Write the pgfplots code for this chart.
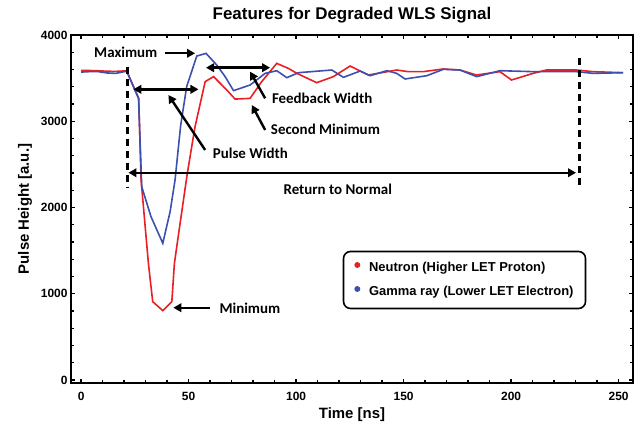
\documentclass[border=0pt]{standalone}
\usepackage{pgfplots}
\pgfplotsset{compat=1.18}
\usepackage{fontspec}
\setmainfont{Liberation Sans}
\newfontfamily\calib{Carlito}
\usetikzlibrary{arrows.meta}
\definecolor{myred}{RGB}{235,30,35}
\definecolor{myblue}{RGB}{60,80,175}
\tikzset{
  ann/.style={line width=2.4bp, -{Triangle[length=8bp,width=8.5bp]}},
  dann/.style={line width=2.4bp, {Triangle[length=8bp,width=8.5bp]}-{Triangle[length=8bp,width=8.5bp]}},
  atext/.style={anchor=base west, inner sep=0pt, font=\calib\fontsize{15}{18}\selectfont\bfseries},
  vdash/.style={line width=3bp, dash pattern=on 7bp off 5bp},
}
\begin{document}
\begin{tikzpicture}
\useasboundingbox (-71bp,-44bp) rectangle (566bp,383bp);
\begin{axis}[
  at={(0,0)}, anchor=south west, scale only axis,
  width=562bp, height=348bp,
  xmin=-4.7, xmax=256.7, ymin=-35, ymax=4000,
  xtick={0,50,...,250}, ytick={0,1000,...,4000},
  minor x tick num=4, minor y tick num=4,
  major tick length=4.5bp, minor tick length=3bp,
  tick style={line width=1.3bp, black},
  axis line style={line width=1.5bp},
  tick align=inside,
  /pgf/number format/assume math mode=true,
  /pgf/number format/1000 sep={},
  ticklabel style={font=\fontsize{12}{14}\selectfont\bfseries},
  xticklabel style={anchor=base, yshift=-17bp},
  title={Features for Degraded WLS Signal},
  title style={at={(axis description cs:0.5,1)}, anchor=base, yshift=9.5bp, inner sep=0pt, font=\fontsize{17}{20}\selectfont\bfseries},
  xlabel={Time [ns]},
  xlabel style={at={(axis description cs:0.5,0)}, anchor=base, yshift=-35bp, inner sep=0pt, font=\fontsize{15}{18}\selectfont\bfseries},
  ylabel={Pulse Height [a.u.]},
  ylabel style={at={(axis description cs:-0.0819,0.5)}, anchor=center, inner sep=0pt, font=\fontsize{15}{18}\selectfont\bfseries},
  legend style={at={(axis description cs:0.4835,0.3802)}, anchor=north west,
    draw=black, line width=1.6bp, rounded corners=7bp,
    inner xsep=10bp, inner ysep=8bp, row sep=7bp,
    font=\fontsize{13}{15}\selectfont\bfseries,
    nodes={inner sep=2bp, text height=10bp, text depth=3bp},
    /tikz/every odd column/.append style={column sep=6bp}},
  legend cell align=left,
  legend image code/.code={\path (-3bp,0) (3bp,0); \fill (0,0.3em) circle (2.1bp);},
]
\addplot[color=myred, line width=1.6bp] coordinates {
(0,3590) (4,3588) (8,3585) (12,3580) (16,3578) (21.2,3585)
(26.8,3265) (27.9,2319) (31.3,1353) (33.3,908) (38,804) (42.2,908) (43.4,1353)
(45.6,1739) (49.4,2396) (53,2937) (57.7,3459) (61.6,3517) (67.8,3362) (71.6,3257)
(78.6,3265) (84,3459) (91,3671) (96.4,3613) (100.3,3556) (109.6,3447) (117.3,3517)
(125.1,3640) (133.6,3536) (146.8,3594) (152.2,3575) (159.1,3575) (168.4,3606)
(176.2,3594) (183.9,3536) (194.8,3575) (200.2,3478) (210.2,3555) (216.4,3594)
(230.4,3594) (238.1,3575) (252.1,3563)
};
\addlegendentry{Neutron (Higher LET Proton)}
\addplot[color=myblue, line width=1.6bp] coordinates {
(0,3570) (4,3575) (8,3575) (12,3560) (16,3555) (21.2,3580)
(26.7,3265) (28.2,2241) (32.5,1894) (38,1585) (41.4,1952) (43.7,2319)
(46.3,2950) (49.1,3401) (53.8,3756) (58.1,3787) (63.1,3652) (67,3517) (70.9,3355)
(78.6,3420) (85.6,3555) (91,3586) (95.7,3505) (101.1,3563) (116.6,3594) (122,3509)
(129.8,3582) (134.4,3528) (142.2,3586) (146.8,3555) (150.7,3490) (160.8,3528)
(168.5,3602) (176.2,3594) (184,3517) (194.8,3586) (210.3,3575) (230.4,3575)
(238.2,3555) (252.1,3563)
};
\addlegendentry{Gamma ray (Lower LET Electron)}
% annotations
\draw[vdash] (21.5,3632) -- (21.5,2240);
\draw[vdash] (231.8,3730) -- (231.8,2226);
\draw[dann] (22,2403) -- (230.2,2403);
\node[atext] at (94.1,2153) {Return to Normal};
\node[atext] at (6.0,3737) {Maximum};
\draw[ann] (39.1,3788) -- (53,3788);
\draw[dann] (24.3,3370) -- (54.6,3370);
\draw[ann] (57.7,2667) -- (40.6,3304);
\node[atext] at (61.2,2570) {Pulse Width};
\draw[dann] (58.1,3621) -- (87.9,3621);
\draw[ann] (85.6,3266) -- (78.6,3575);
\node[atext] at (88.7,3208) {Feedback Width};
\draw[ann] (85.6,2899) -- (79.4,3188);
\node[atext] at (88.2,2849) {Second Minimum};
\draw[ann] (60,838) -- (42.9,838);
\node[atext] at (64.3,773) {Minimum};
\end{axis}
\end{tikzpicture}
\end{document}
